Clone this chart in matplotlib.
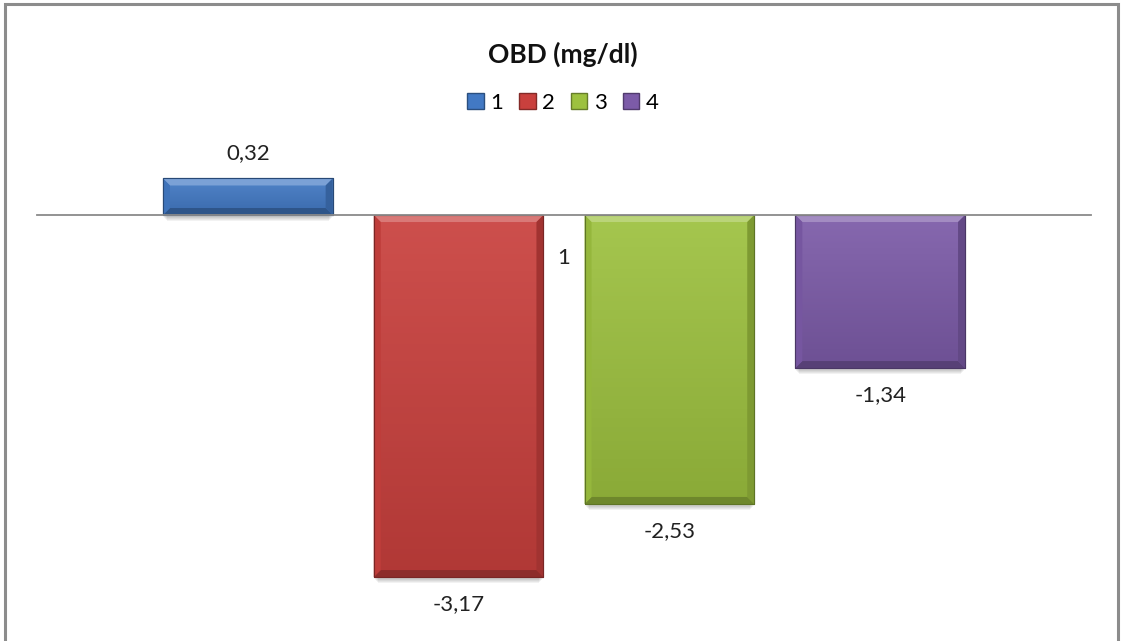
import matplotlib.pyplot as plt
import numpy as np
from matplotlib.patches import Polygon, Rectangle
from matplotlib.colors import to_rgb

# Data
categories = ["1"]
series = ["1", "2", "3", "4"]
values = [0.32, -3.17, -2.53, -1.34]
labels = ["0,32", "-3,17", "-2,53", "-1,34"]
colors = ["#4279c4", "#c9403d", "#9dc13f", "#7c5ba8"]

plt.rcParams["font.family"] = ["Lato", "DejaVu Sans"]

W, H = 1122, 641
fig = plt.figure(figsize=(W / 100, H / 100), dpi=100)

# plot area in pixels
ax_l, ax_r, ax_t, ax_b = 37, 1091, 140, 620
ax = fig.add_axes([ax_l / W, 1 - ax_b / H, (ax_r - ax_l) / W, (ax_b - ax_t) / H])
ax.set_xlim(-0.5, 0.5)
ax.set_ylim(-3.546, 0.657)

px_x = 1.0 / (ax_r - ax_l)
px_y = (0.657 + 3.546) / (ax_b - ax_t)


def shade(c, f):
    r, g, b = to_rgb(c)
    if f >= 0:
        return (r + (1 - r) * f, g + (1 - g) * f, b + (1 - b) * f)
    return (r * (1 + f), g * (1 + f), b * (1 + f))


width = 0.161
step = 0.2
offsets = (np.arange(len(series)) - 1.5) * step
bev = 7

for i, (v, c) in enumerate(zip(values, colors)):
    x0 = offsets[i] - width / 2
    x1 = offsets[i] + width / 2
    ytop, ybot = max(v, 0), min(v, 0)
    # soft shadow
    for k in range(4):
        ax.add_patch(Rectangle((x0 + (1 + k) * px_x, ybot - (3 + k) * px_y),
                               width - 2 * (1 + k) * px_x, (ytop - ybot),
                               facecolor="black", alpha=0.05, lw=0, zorder=1))
    bar = ax.bar(offsets[i], v, width=width, color=c, edgecolor=shade(c, -0.35),
                 linewidth=0.8, zorder=2, label=series[i])[0]
    # vertical gradient
    grad = np.linspace(0, 1, 64).reshape(-1, 1)
    top_c = np.array(shade(c, 0.08))
    bot_c = np.array(shade(c, -0.12))
    img = top_c * (1 - grad[..., None]) + bot_c * grad[..., None]
    im = ax.imshow(img, extent=[x0, x1, ybot, ytop], origin="upper",
                   aspect="auto", zorder=3)
    im.set_clip_path(bar)
    bx, by = bev * px_x, min(bev * px_y, (ytop - ybot) / 2)
    # bevels
    ax.add_patch(Polygon([(x0, ytop), (x1, ytop), (x1 - bx, ytop - by), (x0 + bx, ytop - by)],
                         closed=True, facecolor=shade(c, 0.3), lw=0, zorder=4))
    ax.add_patch(Polygon([(x0, ybot), (x1, ybot), (x1 - bx, ybot + by), (x0 + bx, ybot + by)],
                         closed=True, facecolor=shade(c, -0.3), lw=0, zorder=4))
    ax.add_patch(Polygon([(x0, ytop), (x0 + bx, ytop - by), (x0 + bx, ybot + by), (x0, ybot)],
                         closed=True, facecolor=shade(c, -0.05), lw=0, zorder=4))
    ax.add_patch(Polygon([(x1, ytop), (x1 - bx, ytop - by), (x1 - bx, ybot + by), (x1, ybot)],
                         closed=True, facecolor=shade(c, -0.2), lw=0, zorder=4))
    ax.add_patch(Rectangle((x0, ybot), width, ytop - ybot, fill=False,
                           edgecolor=shade(c, -0.4), lw=0.8, zorder=5))
    # value labels
    if v >= 0:
        ax.annotate(labels[i], (offsets[i], ytop), xytext=(0, 11), textcoords="offset points",
                    ha="center", va="bottom", fontsize=16, color="#222222")
    else:
        ax.annotate(labels[i], (offsets[i], ybot), xytext=(0, -12), textcoords="offset points",
                    ha="center", va="top", fontsize=16, color="#222222")

# axis at zero
for s in ["top", "right", "left"]:
    ax.spines[s].set_visible(False)
ax.spines["bottom"].set_position(("data", 0))
ax.spines["bottom"].set_color("#8a8a8a")
ax.spines["bottom"].set_linewidth(1.3)
ax.spines["bottom"].set_zorder(6)
ax.set_yticks([])
ax.set_xticks([0])
ax.set_xticklabels(categories, fontsize=16, color="#222222")
ax.tick_params(axis="x", length=0, pad=24)

# title and legend
fig.text(563 / W, 1 - 54 / H, "OBD (mg/dl)", ha="center", va="center",
         fontsize=19, fontweight="bold", color="#111111")
handles = [plt.Rectangle((0, 0), 1, 1, facecolor=c, edgecolor=shade(c, -0.35)) for c in colors]
fig.legend(handles=handles, labels=series, loc="center",
           bbox_to_anchor=(563 / W, 1 - 103 / H), ncol=4, frameon=False, fontsize=16,
           handlelength=0.75, handleheight=0.75, handletextpad=0.3, columnspacing=0.7)

# outer frame
fig.patches.append(Rectangle((5 / W, -0.05), 1113 / W, 1.05 - 4 / H, transform=fig.transFigure,
                             fill=False, edgecolor="#8c8c8c", linewidth=2.2))

fig.savefig("out.png", dpi=100, facecolor="white")
